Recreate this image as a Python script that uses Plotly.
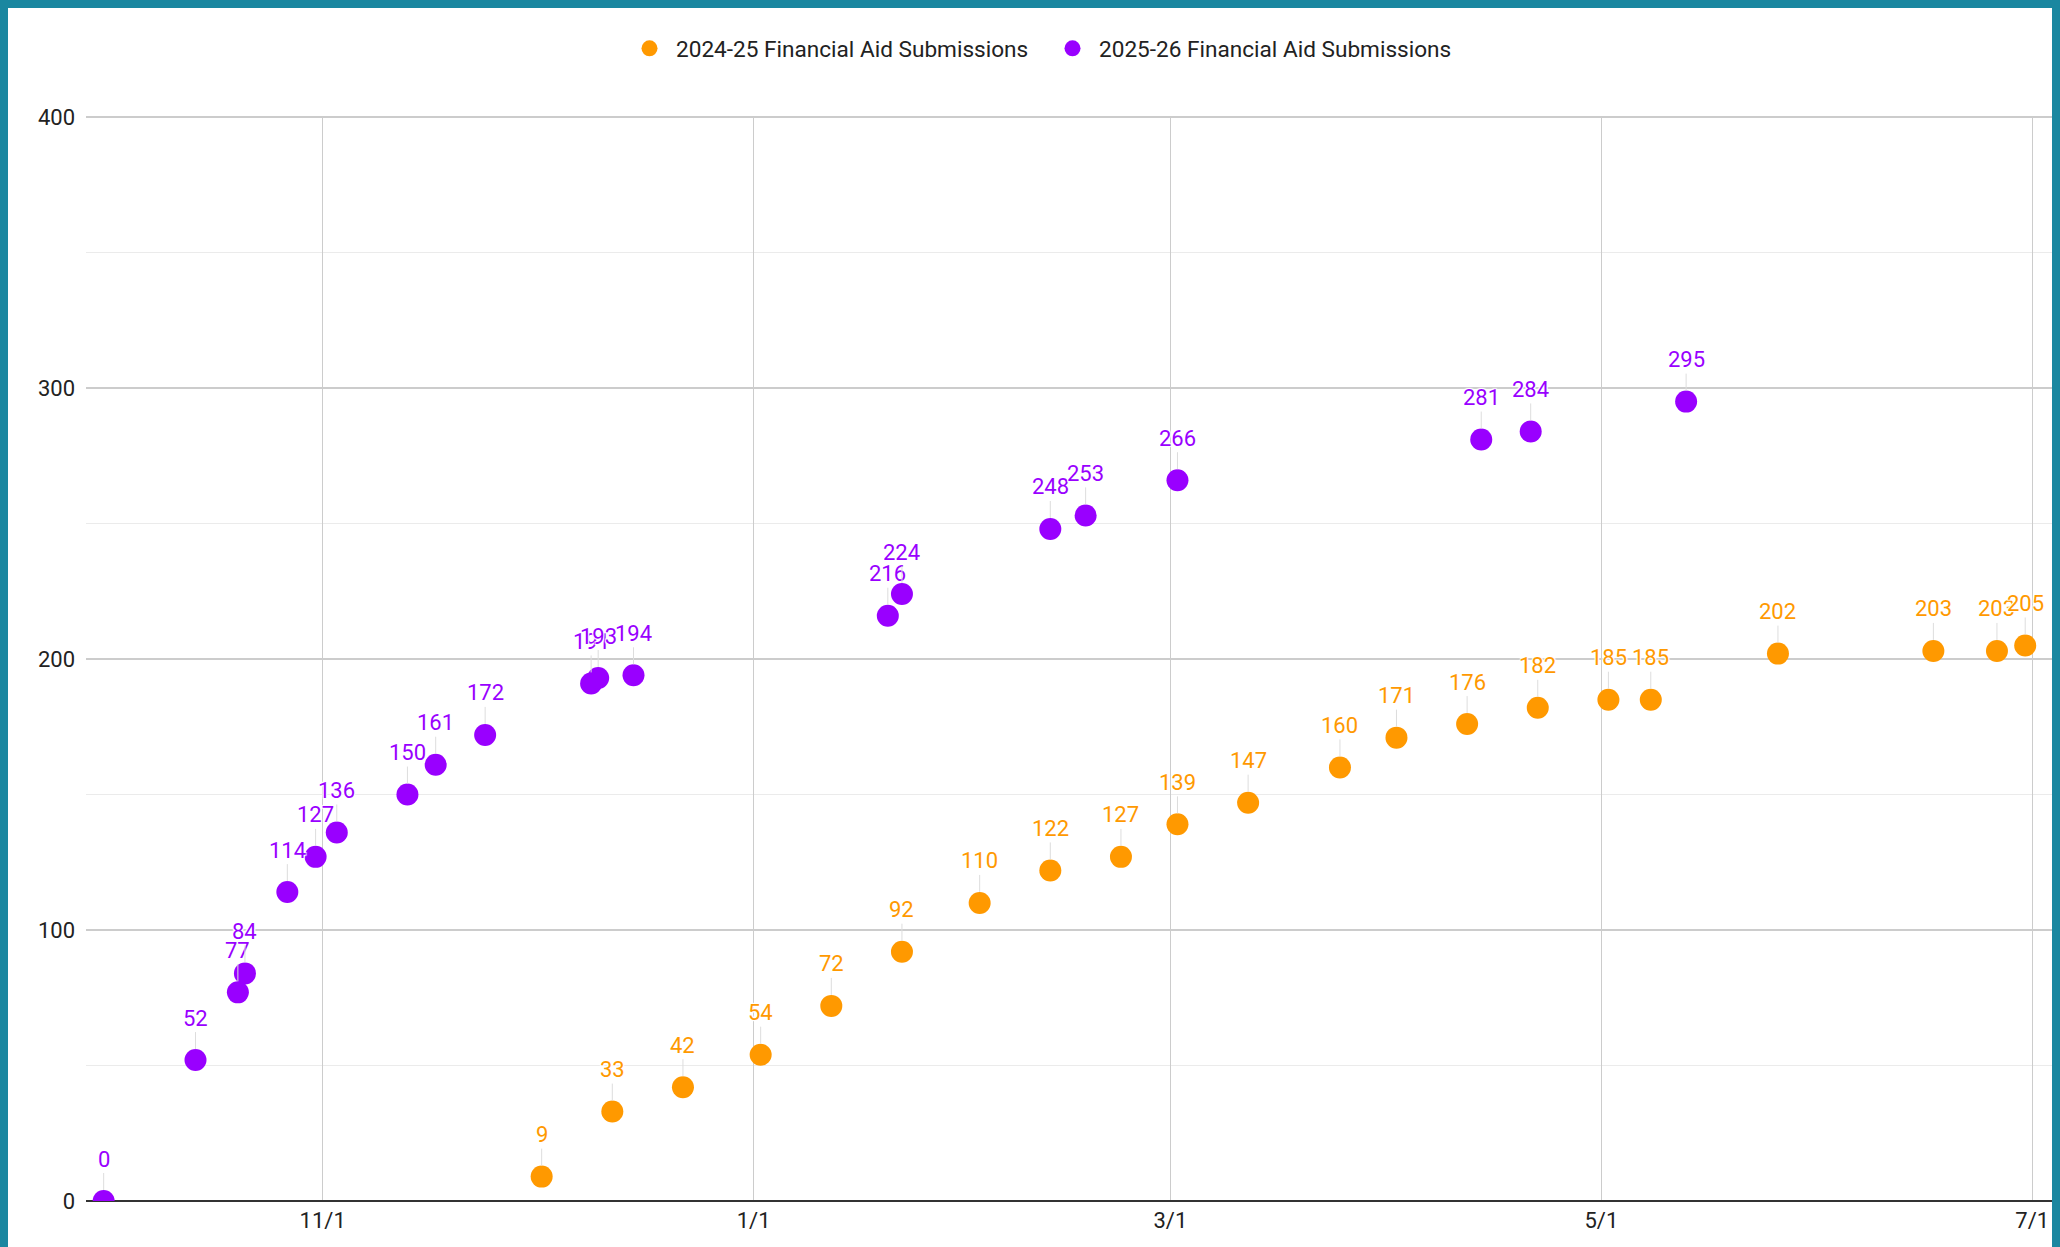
import plotly.graph_objects as go

# ---------------- data ----------------
series_2425_name = "2024-25 Financial Aid Submissions"
series_2425_dates = ["2024-12-02", "2024-12-12", "2024-12-22", "2025-01-02", "2025-01-12",
                     "2025-01-22", "2025-02-02", "2025-02-12", "2025-02-22", "2025-03-02",
                     "2025-03-12", "2025-03-25", "2025-04-02", "2025-04-12", "2025-04-22",
                     "2025-05-02", "2025-05-08", "2025-05-26", "2025-06-17", "2025-06-26",
                     "2025-06-30"]
series_2425_values = [9, 33, 42, 54, 72, 92, 110, 122, 127, 139, 147, 160, 171, 176, 182,
                      185, 185, 202, 203, 203, 205]

series_2526_name = "2025-26 Financial Aid Submissions"
series_2526_dates = ["2024-10-01", "2024-10-14", "2024-10-20", "2024-10-21", "2024-10-27",
                     "2024-10-31", "2024-11-03", "2024-11-13", "2024-11-17", "2024-11-24",
                     "2024-12-09", "2024-12-10", "2024-12-15", "2025-01-20", "2025-01-22",
                     "2025-02-12", "2025-02-17", "2025-03-02", "2025-04-14", "2025-04-21",
                     "2025-05-13"]
series_2526_values = [0, 52, 77, 84, 114, 127, 136, 150, 161, 172, 191, 193, 194, 216, 224,
                      248, 253, 266, 281, 284, 295]

x_tick_vals = ["2024-11-01", "2025-01-01", "2025-03-01", "2025-05-01", "2025-07-01"]
x_tick_text = ["11/1", "1/1", "3/1", "5/1", "7/1"]
x_range = ["2024-09-28 12:00", "2025-07-03 19:00"]
y_tick_vals = [0, 100, 200, 300, 400]
y_minor_vals = [50, 150, 250, 350]
y_range = [0, 400.4]

# ---------------- style ----------------
# the page body keeps its default 8px margin; it is painted teal to form the frame
W, H = 2052, 1239
ML, MR, MT, MB = 78, 8, 108, 46
TEAL = "#1a87a0"
ORANGE = "#ff9900"
PURPLE = "#9900ff"
FONT = "Roboto"
FS = 22
TXT = "#222222"
HALO = "1px 1px 1px #fff, -1px -1px 1px #fff, 1px -1px 1px #fff, -1px 1px 1px #fff"

fig = go.Figure()
for name, xs, ys, col in [
    (series_2425_name, series_2425_dates, series_2425_values, ORANGE),
    (series_2526_name, series_2526_dates, series_2526_values, PURPLE),
]:
    fig.add_trace(go.Scatter(
        x=xs, y=ys, mode="markers", name=name,
        marker=dict(color=col, size=22, line=dict(width=0)),
        hoverinfo="x+y",
    ))

annotations = []
for xs, ys, col in [
    (series_2425_dates, series_2425_values, ORANGE),
    (series_2526_dates, series_2526_values, PURPLE),
]:
    for xv, yv in zip(xs, ys):
        annotations.append(dict(
            x=xv, y=yv, xref="x", yref="y", text=str(yv),
            showarrow=True, arrowhead=0, arrowwidth=1, arrowcolor="#dddddd",
            ax=0, ay=-42, standoff=11,
            font=dict(family=FONT, size=FS, color=col, shadow=HALO),
        ))

fig.update_layout(
    width=W, height=H,
    margin=dict(l=ML, r=MR, t=MT, b=MB, pad=0),
    paper_bgcolor="white", plot_bgcolor="white",
    font=dict(family=FONT, size=FS, color=TXT),
    showlegend=True,
    legend=dict(
        orientation="h", xref="container", yref="container",
        x=615 / W, xanchor="left", y=1 - 40.6 / H, yanchor="middle",
        font=dict(family=FONT, size=22.6, color=TXT),
        bgcolor="rgba(0,0,0,0)", itemsizing="trace", itemwidth=43,
        entrywidth=365, entrywidthmode="pixels",
    ),
    xaxis=dict(
        type="date", range=x_range,
        tickmode="array", tickvals=x_tick_vals, ticktext=x_tick_text,
        showgrid=True, gridcolor="#cccccc", gridwidth=1,
        zeroline=False, showline=False, ticks="",
        ticklabelstandoff=4,
        tickfont=dict(family=FONT, size=FS, color=TXT),
    ),
    yaxis=dict(
        range=y_range, tickmode="array", tickvals=y_tick_vals,
        showgrid=True, gridcolor="#cccccc", gridwidth=1.5,
        minor=dict(tickmode="array", tickvals=y_minor_vals, showgrid=True,
                   gridcolor="#ebebeb", gridwidth=1, ticks=""),
        zeroline=True, zerolinecolor="#333333", zerolinewidth=2,
        showline=False, ticks="", ticklabelstandoff=10,
        tickfont=dict(family=FONT, size=FS, color=TXT),
    ),
    annotations=annotations,
    hovermode="closest",
)

fig.write_html("out.html", post_script=f"document.body.style.background='{TEAL}';")
